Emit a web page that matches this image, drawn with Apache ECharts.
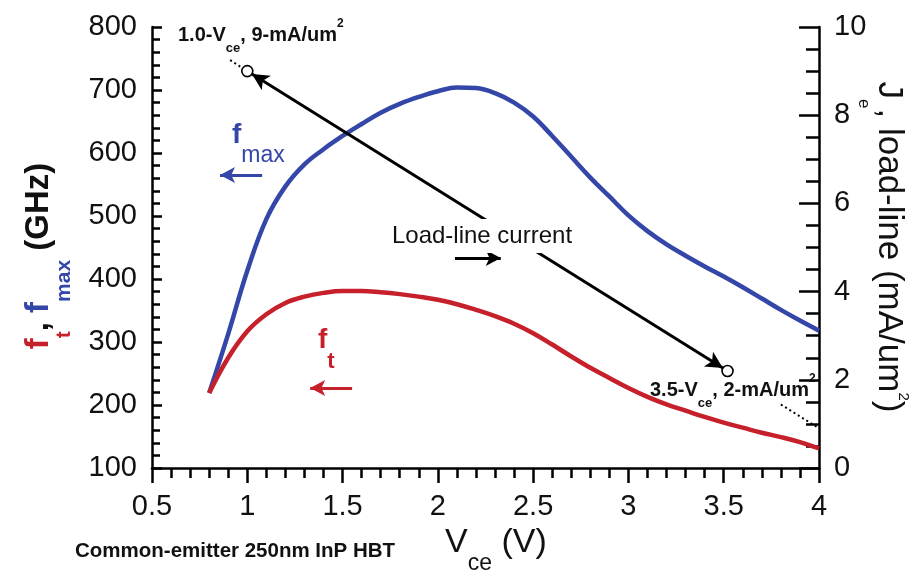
<!DOCTYPE html>
<html><head><meta charset="utf-8">
<script src="https://cdn.jsdelivr.net/npm/echarts@6/dist/echarts.min.js"></script>
<style>html,body{margin:0;padding:0;background:#fff}#c{width:912px;height:573px}</style>
</head><body><div id="c"></div>
<script>
// ---- data ----
const vce = [0.8, 0.9, 1.0, 1.1, 1.2, 1.3, 1.4, 1.5, 1.6, 1.7, 1.8, 1.9, 2.0, 2.1, 2.2, 2.3, 2.4, 2.5, 2.6, 2.7, 2.8, 2.9, 3.0, 3.1, 3.2, 3.3, 3.4, 3.5, 3.6, 3.7, 3.8, 3.9, 4.0];
const fmaxGHz = [219, 313, 413, 495, 547, 582, 606, 627, 646, 664, 678, 689, 698, 704, 703, 695, 680, 658, 627, 594, 561, 531, 501, 476, 455, 437, 420, 404, 387, 369, 351, 334, 318];
const ftGHz   = [219, 275, 317, 344, 362, 372, 378, 381, 381, 379, 376, 372, 367, 360, 351, 341, 329, 314, 296, 277, 259, 243, 227, 213, 201, 191, 181, 172, 164, 156, 149, 141, 131];
const loadLineVce = [1.0, 3.52];
const loadLineJe  = [9.0, 2.2];
const loadLineExtVce = [[0.91, 0.975], [3.80, 4.0]];
const loadLineExtJe  = [[9.25, 9.07], [1.44, 0.90]];
const fmaxArrowVce = [1.078, 0.857], fmaxArrowGHz = 565;
const ftArrowVce = [1.55, 1.33], ftArrowGHz = 227;
const currentArrowVce = [2.09, 2.33], currentArrowJe = 4.76;
const xTickLabels = ['0.5', '1', '1.5', '2', '2.5', '3', '3.5', '4'];
const yLeftTickLabels = ['100', '200', '300', '400', '500', '600', '700', '800'];
const yRightTickLabels = ['0', '2', '4', '6', '8', '10'];

const BLUE = '#3447a8', RED = '#c6202b', F = '"Liberation Sans", Arial, Helvetica, sans-serif';
const chart = echarts.init(document.getElementById('c'));

const zip = (a, b) => a.map((v, i) => [v, b[i]]);
const axisLine = {show: true, onZero: false, lineStyle: {color: '#000', width: 2.5}};
const lab = (size, margin, list, min, step) => ({fontSize: size, color: '#111', fontFamily: F, margin,
  formatter: v => { const i = Math.round((v - min) / step); return list[i] !== undefined ? list[i] : ''; }});

function arrowLine(x1, y1, x2, y2, color) {
  return [{coord: [x1, y1], symbol: 'none', lineStyle: {color, width: 3, type: 'solid'}},
          {coord: [x2, y2], symbol: 'arrow', symbolSize: [12, 15]}];
}

const option = {
  animation: false,
  backgroundColor: '#fff',
  grid: {left: 152, right: 93, top: 27, bottom: 105, outerBoundsMode: 'none', containLabel: false},
  xAxis: {type: 'value', min: 0.5, max: 4, interval: 0.5,
    axisLine, splitLine: {show: false},
    axisTick: {show: true, inside: false, length: 15, lineStyle: {color: '#000', width: 2.5}},
    minorTick: {show: true, splitNumber: 5, length: 10, lineStyle: {color: '#000', width: 2.5}},
    axisLabel: lab(29, 24, xTickLabels, 0.5, 0.5)},
  yAxis: [
    {type: 'value', min: 100, max: 800, interval: 100, position: 'left',
      axisLine, splitLine: {show: false},
      axisTick: {show: true, inside: true, length: 10, lineStyle: {color: '#000', width: 2.5}},
      minorTick: {show: true, splitNumber: 5, length: 8, lineStyle: {color: '#000', width: 2.5}},
      axisLabel: lab(29, 15, yLeftTickLabels, 100, 100)},
    {type: 'value', min: 0, max: 10, interval: 2, position: 'right',
      axisLine, splitLine: {show: false},
      axisTick: {show: true, inside: true, length: 20, lineStyle: {color: '#000', width: 2.5}},
      minorTick: {show: true, splitNumber: 4, length: 13, lineStyle: {color: '#000', width: 2.5}},
      axisLabel: lab(29, 15, yRightTickLabels, 0, 2)}
  ],
  series: [
    {name: 'fmax', type: 'line', yAxisIndex: 0, data: zip(vce, fmaxGHz), smooth: 0.4,
      showSymbol: false, lineStyle: {color: BLUE, width: 4.5}, itemStyle: {color: BLUE}, z: 3,
      markLine: {silent: true, symbol: ['none', 'arrow'], label: {show: false}, animation: false,
        data: [arrowLine(fmaxArrowVce[0], fmaxArrowGHz, fmaxArrowVce[1], fmaxArrowGHz, BLUE)]}},
    {name: 'ft', type: 'line', yAxisIndex: 0, data: zip(vce, ftGHz), smooth: 0.4,
      showSymbol: false, lineStyle: {color: RED, width: 4.5}, itemStyle: {color: RED}, z: 3,
      markLine: {silent: true, symbol: ['none', 'arrow'], label: {show: false}, animation: false,
        data: [arrowLine(ftArrowVce[0], ftArrowGHz, ftArrowVce[1], ftArrowGHz, RED)]}},
    {name: 'load-line', type: 'line', yAxisIndex: 1, data: zip(loadLineVce, loadLineJe),
      showSymbol: true, showAllSymbol: true, symbol: 'circle', symbolSize: 11, z: 6,
      lineStyle: {opacity: 0, width: 0},
      itemStyle: {color: 'rgba(255,255,255,0)', borderColor: '#000', borderWidth: 1.6, opacity: 1}}
  ]
};
chart.setOption(option);

// load-line arrow, ending at the edge of the two marker circles
const p1 = chart.convertToPixel({seriesIndex: 2}, [loadLineVce[0], loadLineJe[0]]);
const p2 = chart.convertToPixel({seriesIndex: 2}, [loadLineVce[1], loadLineJe[1]]);
const dx = p2[0] - p1[0], dy = p2[1] - p1[1], L = Math.hypot(dx, dy), r = 5.5;
const a = chart.convertFromPixel({seriesIndex: 2}, [p1[0] + dx / L * r, p1[1] + dy / L * r]);
const b = chart.convertFromPixel({seriesIndex: 2}, [p2[0] - dx / L * r, p2[1] - dy / L * r]);

const dotted = (i) => [{coord: [loadLineExtVce[i][0], loadLineExtJe[i][0]], symbol: 'none',
  lineStyle: {color: '#000', width: 2, type: [2, 3]}}, {coord: [loadLineExtVce[i][1], loadLineExtJe[i][1]], symbol: 'none'}];

const T = (x, y, text, rich, extra) => ({type: 'text', x, y, z: 100,
  style: Object.assign({text, rich, align: 'left', verticalAlign: 'middle', fontFamily: F}, extra || {})});

const annRich = {
  m: {fontSize: 20, fontWeight: 'bold', fill: '#111', fontFamily: F},
  s: {fontSize: 13, fontWeight: 'bold', fill: '#111', fontFamily: F, padding: [27, 0, 0, 0]},
  p: {fontSize: 12, fontWeight: 'bold', fill: '#111', fontFamily: F, padding: [0, 0, 22, 0]}
};

chart.setOption({
  series: [{}, {}, {
    markLine: {silent: true, label: {show: false}, animation: false, z: 4,
      data: [
        [{coord: a, symbol: 'arrow', symbolSize: [13, 17], lineStyle: {color: '#000', width: 3, type: 'solid'}},
         {coord: b, symbol: 'arrow', symbolSize: [13, 17]}],
        dotted(0), dotted(1),
        arrowLine(currentArrowVce[0], currentArrowJe, currentArrowVce[1], currentArrowJe, '#000')
      ]}
  }],
  graphic: [
    T(178, 35, '{m|1.0-V}{s|ce}{m|, 9-mA/um}{p|2}', annRich),
    T(650, 390, '{m|3.5-V}{s|ce}{m|, 2-mA/um}{p|2}', annRich),
    T(75, 551, 'Common-emitter 250nm InP HBT', null, {fontSize: 20.5, fontWeight: 'bold', fill: '#111'}),
    T(482, 236, 'Load-line current', null, {fontSize: 24, fill: '#111', align: 'center',
      backgroundColor: '#fff', padding: [5, 3, 5, 3]}),
    T(232, 135, '{f|f}{s|max}', {
      f: {fontSize: 28, fontWeight: 'bold', fill: BLUE, fontFamily: F},
      s: {fontSize: 23, fill: BLUE, fontFamily: F, padding: [42, 0, 0, 0]}}),
    T(318, 340, '{f|f}{s|t}', {
      f: {fontSize: 28, fontWeight: 'bold', fill: RED, fontFamily: F},
      s: {fontSize: 22, fontWeight: 'bold', fill: RED, fontFamily: F, padding: [44, 0, 0, 0]}}),
    T(445, 543, '{v|V}{s|ce}{v| (V)}', {
      v: {fontSize: 34, fill: '#111', fontFamily: F},
      s: {fontSize: 23, fill: '#111', fontFamily: F, padding: [42, 0, 0, 0]}}),
    Object.assign(T(38.5, 256, '{a|f}{as|t}{c|, }{b|f}{bs|max}{g| (GHz)}', {
      a: {fontSize: 33, fontWeight: 'bold', fill: RED, fontFamily: F},
      as: {fontSize: 21, fontWeight: 'bold', fill: RED, fontFamily: F, padding: [52, 0, 0, 0]},
      c: {fontSize: 33, fontWeight: 'bold', fill: '#111', fontFamily: F},
      b: {fontSize: 33, fontWeight: 'bold', fill: BLUE, fontFamily: F},
      bs: {fontSize: 21, fontWeight: 'bold', fill: BLUE, fontFamily: F, padding: [52, 0, 0, 0]},
      g: {fontSize: 33, fontWeight: 'bold', fill: '#111', fontFamily: F}}, {align: 'center'}), {rotation: Math.PI / 2}),
    Object.assign(T(889, 247, '{j|J}{js|e}{c|, load-line (mA/um}{sp|2}{c|)}', {
      j: {fontSize: 35, fill: '#111', fontFamily: F},
      js: {fontSize: 17, fill: '#111', fontFamily: F, padding: [50, 0, 0, 0]},
      c: {fontSize: 35, fill: '#111', fontFamily: F},
      sp: {fontSize: 15, fill: '#111', fontFamily: F, padding: [0, 0, 28, 0]}}, {align: 'center'}), {rotation: -Math.PI / 2})
  ]
});
</script></body></html>
